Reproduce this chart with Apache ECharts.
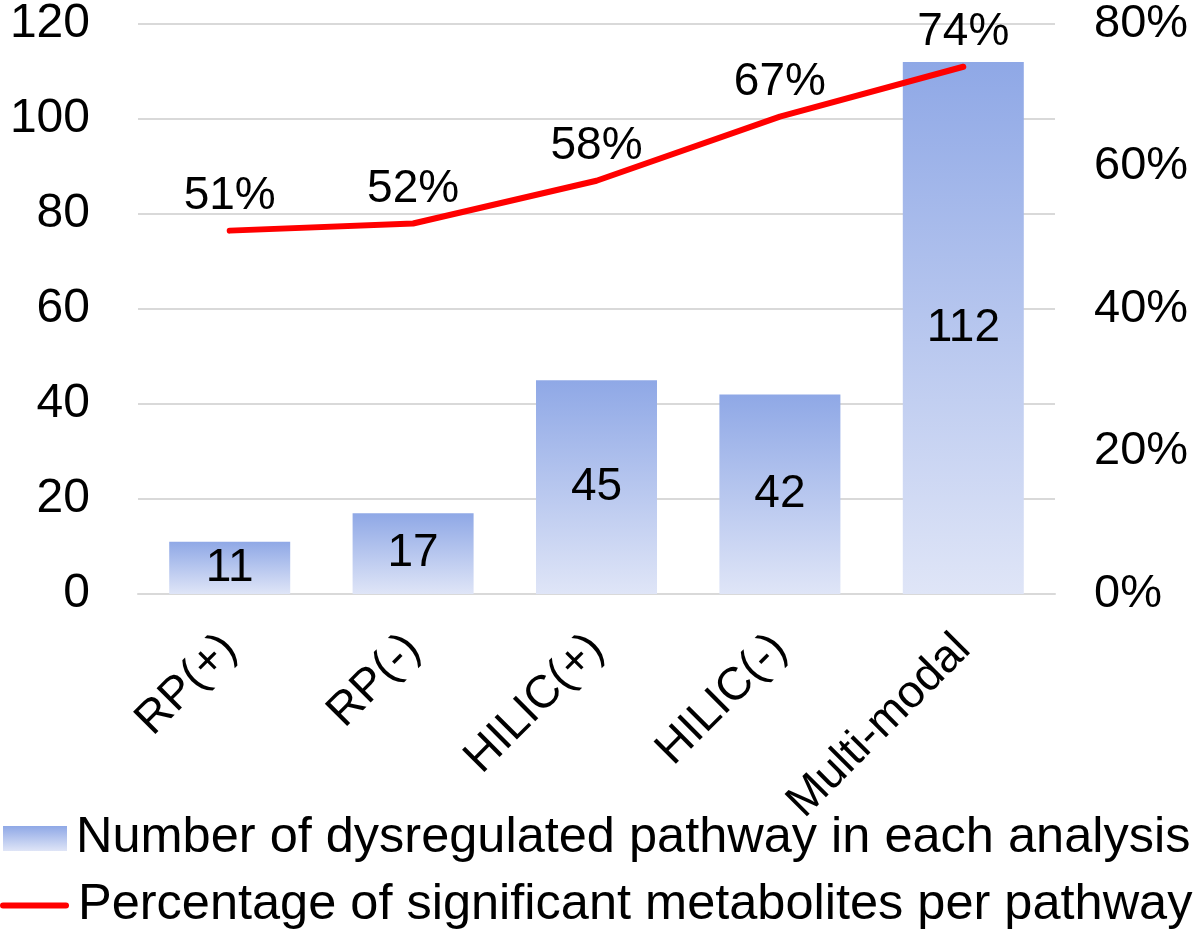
<!DOCTYPE html>
<html>
<head>
<meta charset="utf-8">
<script src="https://cdn.jsdelivr.net/npm/echarts@6/dist/echarts.min.js"></script>
<style>html,body{margin:0;padding:0;background:#fff;}#c{width:1200px;height:932px;}</style>
</head>
<body>
<div id="c"></div>
<script>
const categories = ['RP(+)', 'RP(-)', 'HILIC(+)', 'HILIC(-)', 'Multi-modal'];
const pathwayCounts = [11, 17, 45, 42, 112];
const significantPct = [51, 52, 58, 67, 74];
const barName = 'Number of dysregulated pathway in each analysis';
const lineName = 'Percentage of significant metabolites per pathway';

const FONT = '"Liberation Sans", Arial, sans-serif';
const barGradient = () => new echarts.graphic.LinearGradient(0, 0, 0, 1, [
  { offset: 0, color: '#8fa8e6' }, { offset: 1, color: '#dfe5f7' }
]);
const legendText = { fontFamily: FONT, fontSize: 50.5, color: '#000', padding: [0, 0, 0, 4] };
const chart = echarts.init(document.getElementById('c'));
chart.setOption({
  animation: false,
  backgroundColor: '#fff',
  grid: { left: 138, right: 145, top: 22, bottom: 338, containLabel: false },
  legend: [
    {
      orient: 'vertical', left: 3, top: 813, padding: 0,
      itemWidth: 64, itemHeight: 25, selectedMode: false,
      textStyle: legendText,
      data: [{ name: barName, icon: 'rect', itemStyle: { color: barGradient() } }]
    },
    {
      orient: 'vertical', left: 0, top: 880, padding: 0,
      itemWidth: 69, itemHeight: 6, selectedMode: false,
      textStyle: legendText,
      data: [{ name: lineName, icon: 'path://M3,0 L66,0 A3,3 0 0 1 66,6 L3,6 A3,3 0 0 1 3,0 Z', itemStyle: { color: '#ff0000' } }]
    }
  ],
  xAxis: {
    type: 'category', data: categories,
    axisLine: { show: true, lineStyle: { color: '#d9d9d9', width: 2 } },
    axisTick: { show: false },
    axisLabel: { rotate: 45, margin: 48, fontFamily: FONT, fontSize: 46, color: '#000', interval: 0 }
  },
  yAxis: [
    {
      type: 'value', min: 0, max: 120, interval: 20,
      axisLine: { show: false }, axisTick: { show: false },
      axisLabel: { margin: 48, fontFamily: FONT, fontSize: 48, color: '#000' },
      splitLine: { lineStyle: { color: '#d9d9d9', width: 2 } }
    },
    {
      type: 'value', min: 0, max: 80, interval: 20,
      axisLine: { show: false }, axisTick: { show: false },
      axisLabel: { margin: 39, fontFamily: FONT, fontSize: 47, color: '#000', formatter: '{value}%' },
      splitLine: { show: false }
    }
  ],
  series: [
    {
      name: barName, type: 'bar', data: pathwayCounts, barWidth: 121, yAxisIndex: 0,
      itemStyle: { color: barGradient() },
      label: { show: true, position: 'inside', fontFamily: FONT, fontSize: 46, color: '#000' }
    },
    {
      name: lineName, type: 'line', data: significantPct, yAxisIndex: 1,
      symbol: 'circle', symbolSize: 2, showSymbol: true, smooth: false,
      lineStyle: { color: '#ff0000', width: 6, cap: 'round', join: 'round' },
      itemStyle: { color: '#ff0000' },
      label: { show: true, position: 'top', distance: 10, fontFamily: FONT, fontSize: 46, color: '#000', formatter: '{c}%' }
    }
  ]
});
</script>
</body>
</html>
